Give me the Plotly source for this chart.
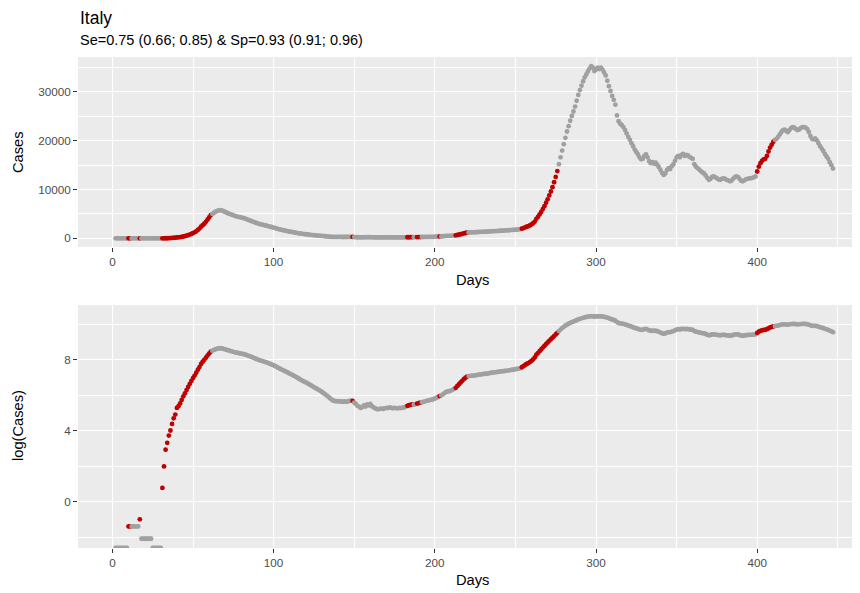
import numpy as np
import plotly.graph_objects as go

title_text = "Italy"
subtitle_text = "Se=0.75 (0.66; 0.85) & Sp=0.93 (0.91; 0.96)"

days = list(range(2, 448))

cases = [
    0, 0, 0, 0, 0, 0, 0, 0, 0.25, 0.25,                                   # 2-11
    0.25, 0.25, 0.25, 0.25, 0.25, 0.375, 0.125, 0.125, 0.125, 0.125,      # 12-21
    0.125, 0.125, 0.125, 0, 0, 0, 0, 0, 0, 2.2,                           # 22-31
    7.4, 19, 28, 42, 56, 81, 111, 137, 200, 221,                          # 32-41
    257, 314, 384, 455, 545, 652, 773, 916, 1075, 1236,                   # 42-51
    1451, 1720, 2000, 2392, 2697, 3010, 3394, 3827, 4272, 4770,           # 52-61
    5000, 5250, 5450, 5620, 5720, 5780, 5700, 5560, 5400, 5250,           # 62-71
    5100, 4980, 4850, 4720, 4600, 4500, 4420, 4340, 4260, 4180,           # 72-81
    4080, 3960, 3830, 3700, 3580, 3450, 3320, 3200, 3080, 2970,           # 82-91
    2880, 2800, 2720, 2640, 2560, 2470, 2380, 2290, 2200, 2100,           # 92-101
    2000, 1900, 1820, 1740, 1660, 1590, 1520, 1450, 1380, 1320,           # 102-111
    1260, 1200, 1140, 1080, 1020, 970, 920, 880, 840, 800,                # 112-121
    760, 720, 680, 645, 610, 580, 550, 520, 490, 460,                     # 122-131
    430, 400, 370, 345, 320, 300, 295, 290, 292, 285,                     # 132-141
    288, 280, 290, 282, 288, 295, 300, 298, 270, 250,                     # 142-151
    225, 215, 200, 210, 230, 215, 245, 230, 250, 220,                     # 152-161
    205, 195, 188, 185, 190, 192, 188, 195, 200, 198,                     # 162-171
    205, 200, 196, 200, 198, 195, 200, 198, 202, 205,                     # 172-181
    215, 225, 232, 238, 245, 240, 248, 255, 262, 268,                     # 182-191
    275, 282, 290, 298, 305, 310, 318, 325, 340, 355,                     # 192-201
    370, 390, 405, 430, 460, 490, 505, 515, 530, 555,                     # 202-211
    585, 620, 690, 760, 840, 920, 1010, 1100, 1170, 1200,                 # 212-221
    1220, 1230, 1240, 1250, 1270, 1300, 1310, 1330, 1350, 1370,           # 222-231
    1360, 1400, 1420, 1450, 1470, 1490, 1500, 1520, 1540, 1560,           # 232-241
    1570, 1600, 1620, 1640, 1660, 1690, 1720, 1740, 1770, 1800,           # 242-251
    1830, 1880, 1980, 2100, 2250, 2380, 2500, 2650, 2850, 3100,           # 252-261
    3450, 4000, 4400, 4900, 5400, 6000, 6600, 7300, 8000, 8800,           # 262-271
    9600, 10500, 11500, 12600, 13800, 15200, 16600, 18000, 19300, 20600,  # 272-281
    21900, 23000, 24100, 25100, 26000, 27000, 28200, 29400, 30400, 31300, # 282-291
    32200, 33000, 33600, 34200, 34800, 35300, 35000, 34300, 34600, 35000, # 292-301
    34700, 35000, 34600, 34000, 33400, 32300, 31200, 30200, 29200, 28400, # 302-311
    27400, 25200, 24000, 23500, 23200, 22800, 22200, 21500, 20800, 20200, # 312-321
    19500, 18900, 18200, 17700, 17200, 16600, 16200, 16300, 16900, 17200, # 322-331
    16600, 15800, 15400, 15600, 15300, 15500, 15100, 14600, 14000, 13400, # 332-341
    13000, 13300, 14000, 14400, 14200, 14800, 15200, 15900, 16600, 16900, # 342-351
    16600, 17100, 17300, 16900, 17100, 17000, 16700, 16500, 16300, 15200, # 352-361
    14700, 14400, 14100, 13800, 13500, 13300, 12900, 12400, 12000, 12200, # 362-371
    12600, 12700, 12500, 12300, 12100, 12000, 12200, 12300, 12200, 12000, # 372-381
    11900, 11700, 11800, 12200, 12500, 12700, 12600, 12200, 11800, 11700, # 382-391
    11900, 12100, 12200, 12300, 12300, 12400, 12500, 12700, 13700, 14700, # 392-401
    15400, 15900, 16200, 16300, 16900, 17800, 18600, 19200, 19800, 20200, # 402-411
    20400, 20800, 21300, 21800, 22200, 22300, 22000, 21800, 22200, 22600, # 412-421
    22800, 22700, 22400, 22200, 22300, 22600, 22800, 22800, 22700, 22400, # 422-431
    21800, 21000, 20400, 20300, 20500, 20100, 19500, 18900, 18400, 17900, # 432-441
    17300, 16800, 16300, 15600, 15000, 14300,                             # 442-447
]

# day ranges flagged (red)
flag_ranges = [(10, 11), (17, 17), (31, 61), (149, 149), (183, 186), (189, 191),
               (203, 203), (213, 220), (254, 276), (400, 410)]

x_ticks = [0, 100, 200, 300, 400]
top_ticks = [0, 10000, 20000, 30000]
log_ticks = [0, 4, 8]

RED = "#C00000"
GREY = "#A0A0A0"
OFF = 8                      # page body margin
W, H = 860 - OFF, 593 - OFF

n = min(len(days), len(cases))
days = days[:n]
cases = cases[:n]

flag = [any(a <= d <= b for a, b in flag_ranges) for d in days]
colors = [RED if f else GREY for f in flag]

X_RANGE = [-21.35, -21.35 + (860 - 78) / 1.612]
TOP_RANGE = [-1770, 37170]
LOG_RANGE = [-2.6, 11.1]

c = np.array(cases, dtype=float)
with np.errstate(divide="ignore"):
    logc = np.log(c)
logc = np.where(np.isneginf(logc), LOG_RANGE[0], logc)

fig = go.Figure()
fig.add_trace(go.Scatter(x=days, y=cases, mode="markers",
                         marker=dict(color=colors, size=4.8, line=dict(width=0)),
                         xaxis="x", yaxis="y", showlegend=False, hoverinfo="x+y"))
fig.add_trace(go.Scatter(x=days, y=logc, mode="markers",
                         marker=dict(color=colors, size=4.8, line=dict(width=0)),
                         xaxis="x2", yaxis="y2", showlegend=False, hoverinfo="x+y"))

FONT = "Liberation Sans, Arial, Helvetica, sans-serif"
tickfont = dict(family=FONT, size=11.7, color="#4D4D4D")


def sx(px):
    return (px - OFF) / W


def sy(py):
    return 1 - (py - OFF) / H


axis_common = dict(showgrid=True, gridcolor="white", gridwidth=1.3, zeroline=False,
                   ticks="outside", ticklen=4, tickwidth=1.1, tickcolor="#333333",
                   tickfont=tickfont, showline=False, fixedrange=True)

xdom = [sx(78), 1.0]
fig.update_layout(
    width=W, height=H,
    margin=dict(l=0, r=0, t=0, b=0),
    paper_bgcolor="white", plot_bgcolor="#EBEBEB",
    font=dict(family=FONT),
    xaxis=dict(domain=xdom, range=X_RANGE, anchor="y", tickvals=x_ticks,
               ticktext=[str(v) for v in x_ticks],
               minor=dict(dtick=50, tick0=0, showgrid=True, gridcolor="white", gridwidth=0.6),
               **axis_common),
    yaxis=dict(domain=[sy(247), sy(57)], range=TOP_RANGE, anchor="x", tickvals=top_ticks,
               ticktext=[str(v) for v in top_ticks],
               minor=dict(dtick=5000, tick0=0, showgrid=True, gridcolor="white", gridwidth=0.6),
               **axis_common),
    xaxis2=dict(domain=xdom, range=X_RANGE, anchor="y2", tickvals=x_ticks,
                ticktext=[str(v) for v in x_ticks],
                minor=dict(dtick=50, tick0=0, showgrid=True, gridcolor="white", gridwidth=0.6),
                **axis_common),
    yaxis2=dict(domain=[sy(548), sy(305)], range=LOG_RANGE, anchor="x2", tickvals=log_ticks,
                ticktext=[str(v) for v in log_ticks],
                minor=dict(dtick=2, tick0=0, showgrid=True, gridcolor="white", gridwidth=0.6),
                **axis_common),
)

ann = []
ann.append(dict(text=title_text, x=sx(78), y=sy(8), xref="paper", yref="paper",
                xanchor="left", yanchor="top", yshift=2, showarrow=False,
                font=dict(family=FONT, size=17.5, color="black")))
ann.append(dict(text=subtitle_text, x=sx(78), y=sy(40), xref="paper", yref="paper",
                xanchor="left", yanchor="middle", showarrow=False,
                font=dict(family=FONT, size=14.5, color="black")))
for txt, yy in [("Days", 280), ("Days", 580)]:
    ann.append(dict(text=txt, x=sx(472), y=sy(yy), xref="paper", yref="paper",
                    xanchor="center", yanchor="middle", showarrow=False,
                    font=dict(family=FONT, size=14.7, color="black")))
for txt, yy in [("Cases", 152), ("log(Cases)", 426)]:
    ann.append(dict(text=txt, x=sx(18), y=sy(yy), xref="paper", yref="paper",
                    xanchor="center", yanchor="middle", showarrow=False, textangle=-90,
                    font=dict(family=FONT, size=14.7, color="black")))
fig.update_layout(annotations=ann)

fig.write_html("out.html")
